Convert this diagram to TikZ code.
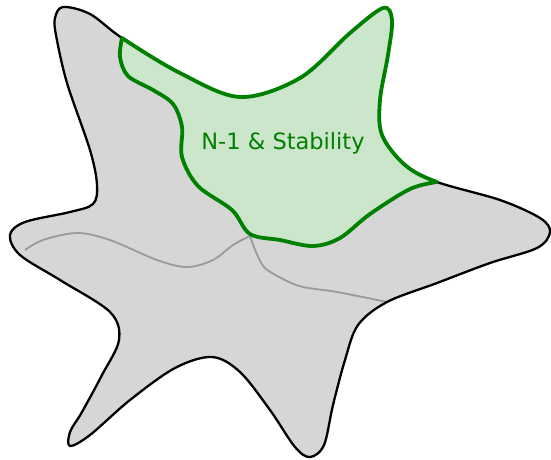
\documentclass[tikz,border=0pt]{standalone}
\usepackage{fontspec}
\setmainfont{DejaVu Sans}
\usepackage{xcolor}
\usepackage{tikz}
\definecolor{StarFill}{HTML}{D6D6D6}
\definecolor{ZoneFill}{HTML}{CCE6CC}
\definecolor{ZoneLine}{HTML}{008000}
\definecolor{Divider}{HTML}{9A9A9A}
\tikzset{
  starline/.style={draw=black,line width=2.3pt,line join=round},
  zoneline/.style={draw=ZoneLine,line width=3.8pt,line join=round,line cap=round},
  divider/.style={draw=Divider,line width=1.8pt},
  zonelabel/.style={text=ZoneLine,font=\fontsize{22.5}{26}\selectfont,anchor=base,inner sep=0pt}
}
% outline of the whole star, pixel coordinates (y down)
\def\starshape{plot[smooth cycle,tension=0.55] coordinates {
  (63,7) (90,14) (122,38) (180,73) (240,97) (300,78) (350,33) (383,8) (392,20)
  (388,55) (380,100) (382,135) (405,165) (437,182) (500,200) (540,218) (550,232) (537,248)
  (490,263) (437,283) (387,302) (358,325) (345,360) (333,405) (324,445) (310,457)
  (295,447) (270,410) (240,372) (212,357) (175,368) (130,400) (90,435) (70,446)
  (70,432) (82,412) (102,375) (119,340) (110,312) (60,280) (20,255) (10,235)
  (25,222) (70,212) (93,204) (97,185) (90,150) (67,83) (56,35) (55,18)}}
% inner border of the green zone, from A to B
\def\zoneedge{plot[smooth,tension=0.55] coordinates {
  (122,38) (120,57) (128,76) (153,90) (173,104) (182,127) (182,157) (198,186)
  (232,210) (250,234) (280,240) (313,246) (340,238) (370,214) (410,189) (437,182)}}
\def\zonehull{\zoneedge -- (450,150) -- (450,-20) -- (140,-20) -- (132,22) -- cycle}

\begin{document}
\begin{tikzpicture}[x=1pt,y=-1pt]
  \useasboundingbox (0,0) rectangle (551,459);
  \fill[StarFill] \starshape;
  \begin{scope}
    \clip \starshape;
    \fill[ZoneFill] \zonehull;
  \end{scope}
  \draw[divider] plot[smooth,tension=0.55] coordinates {(25,250) (43,240) (77,233) (110,240) (157,260) (187,267) (213,260) (233,245) (250,236)};
  \draw[divider] plot[smooth,tension=0.55] coordinates {(250,236) (256,252) (265,268) (285,280) (303,287) (337,292) (387,302)};
  \draw[starline] \starshape;
  \begin{scope}
    \clip \zonehull;
    \draw[zoneline] \starshape;
  \end{scope}
  \draw[zoneline] \zoneedge;
  \node[zonelabel] (zone) at (283,149) {N-1 \& Stability};
\end{tikzpicture}
\end{document}
